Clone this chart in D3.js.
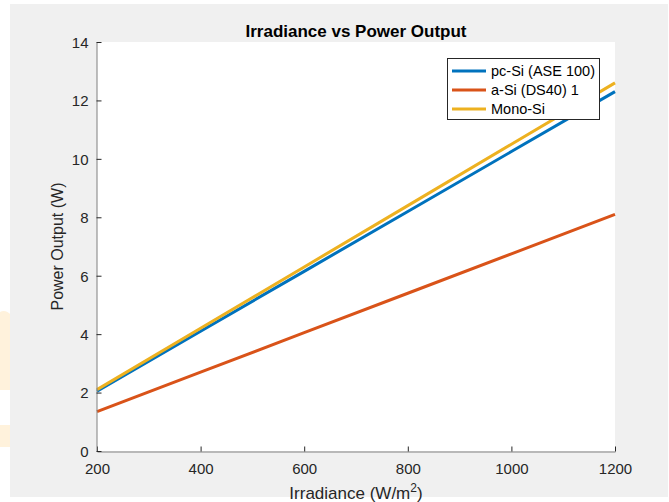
<!DOCTYPE html>
<html>
<head>
<meta charset="utf-8">
<script src="https://cdn.jsdelivr.net/npm/d3@7"></script>
<style>
  html, body { margin: 0; padding: 0; background: #ffffff; }
  svg { display: block; font-family: "Liberation Sans", Arial, Helvetica, sans-serif; }
</style>
</head>
<body>
<svg id="chart" width="669" height="502"></svg>
<script>
// Irradiance sample points (W/m^2)
const irradiance = [200, 400, 600, 800, 1000, 1200];

// Power output per module type (W)
const pcSi = [2.05, 4.10, 6.15, 8.20, 10.25, 12.30];
const aSi = [1.35, 2.70, 4.05, 5.40, 6.75, 8.10];
const monoSi = [2.10, 4.20, 6.30, 8.40, 10.50, 12.60];

const seriesNames = ["pc-Si (ASE 100)", "a-Si (DS40) 1", "Mono-Si"];
const seriesValues = [pcSi, aSi, monoSi];
const seriesColors = ["#0072BD", "#D95319", "#EDB120"];

const xTicks = [200, 400, 600, 800, 1000, 1200];
const yTicks = [0, 2, 4, 6, 8, 10, 12, 14];

const titleText = "Irradiance vs Power Output";
const yLabelText = "Power Output (W)";

const svg = d3.select("#chart");

// faint marks at the left edge
svg.append("path")
  .attr("d", "M0,312 Q6,309 12,316 L12,390 L0,390 Z")
  .attr("fill", "#fff2dc");
svg.append("path")
  .attr("d", "M0,425 L12,425 L12,447 L0,447 Z")
  .attr("fill", "#fff2dc");

// figure background
svg.append("rect")
  .attr("x", 10).attr("y", 4)
  .attr("width", 658).attr("height", 493)
  .attr("fill", "#f0f0f0");

const plot = { left: 97, right: 615, top: 42, bottom: 451 };

const x = d3.scaleLinear().domain([200, 1200]).range([plot.left, plot.right]);
const y = d3.scaleLinear().domain([0, 14]).range([plot.bottom, plot.top]);

// plot area
svg.append("rect")
  .attr("x", plot.left).attr("y", plot.top)
  .attr("width", plot.right - plot.left)
  .attr("height", plot.bottom - plot.top)
  .attr("fill", "#ffffff");

// series lines
const line = d3.line()
  .x((d, i) => x(irradiance[i]))
  .y(d => y(d));

seriesValues.forEach((vals, k) => {
  svg.append("path")
    .datum(vals)
    .attr("d", line)
    .attr("fill", "none")
    .attr("stroke", seriesColors[k])
    .attr("stroke-width", 3);
});

// axes (ticks pointing inward, MATLAB style)
const xAxis = d3.axisBottom(x).tickValues(xTicks).tickFormat(d3.format("d"))
  .tickSizeInner(-5).tickSizeOuter(0).tickPadding(12);
const yAxis = d3.axisLeft(y).tickValues(yTicks).tickFormat(d3.format("d"))
  .tickSizeInner(-5).tickSizeOuter(0).tickPadding(8);

const gx = svg.append("g")
  .attr("transform", `translate(0,${plot.bottom + 0.5})`)
  .call(xAxis);
const gy = svg.append("g")
  .attr("transform", `translate(${plot.left - 0.5},0)`)
  .call(yAxis);

[gx, gy].forEach(g => {
  g.select(".domain").attr("stroke", "#808080").attr("stroke-width", 1);
  g.selectAll(".tick line").attr("stroke", "#262626").attr("stroke-width", 1);
  g.selectAll(".tick text")
    .attr("fill", "#262626")
    .style("font-size", "15px")
    .style("font-family", "'Liberation Sans', Arial, sans-serif");
});
gx.selectAll(".tick text").attr("dy", "0.71em");
gy.selectAll(".tick text").attr("dy", "0.36em");

// title
svg.append("text")
  .attr("x", (plot.left + plot.right) / 2)
  .attr("y", 37)
  .attr("text-anchor", "middle")
  .attr("fill", "#000000")
  .style("font-size", "17px")
  .style("font-weight", "bold")
  .text(titleText);

// x label with superscript
const xl = svg.append("text")
  .attr("x", (plot.left + plot.right) / 2)
  .attr("y", 499)
  .attr("text-anchor", "middle")
  .attr("fill", "#262626")
  .style("font-size", "17px");
xl.append("tspan").text("Irradiance (W/m");
xl.append("tspan").attr("dy", -7).style("font-size", "12px").text("2");
xl.append("tspan").attr("dy", 7).text(")");

// y label
svg.append("text")
  .attr("transform", `translate(63,${(plot.top + plot.bottom) / 2}) rotate(-90)`)
  .attr("text-anchor", "middle")
  .attr("fill", "#262626")
  .style("font-size", "16px")
  .text(yLabelText);

// legend
const legend = svg.append("g");
legend.append("rect")
  .attr("x", 447.5).attr("y", 58.5)
  .attr("width", 152).attr("height", 61)
  .attr("fill", "#ffffff")
  .attr("stroke", "#262626")
  .attr("stroke-width", 1);
const rowY = [71, 90, 109];
seriesNames.forEach((name, k) => {
  legend.append("line")
    .attr("x1", 452).attr("x2", 486)
    .attr("y1", rowY[k]).attr("y2", rowY[k])
    .attr("stroke", seriesColors[k])
    .attr("stroke-width", 3);
  legend.append("text")
    .attr("x", 491).attr("y", rowY[k])
    .attr("dy", "0.36em")
    .attr("fill", "#000000")
    .style("font-size", "14.5px")
    .text(name);
});
</script>
</body>
</html>
